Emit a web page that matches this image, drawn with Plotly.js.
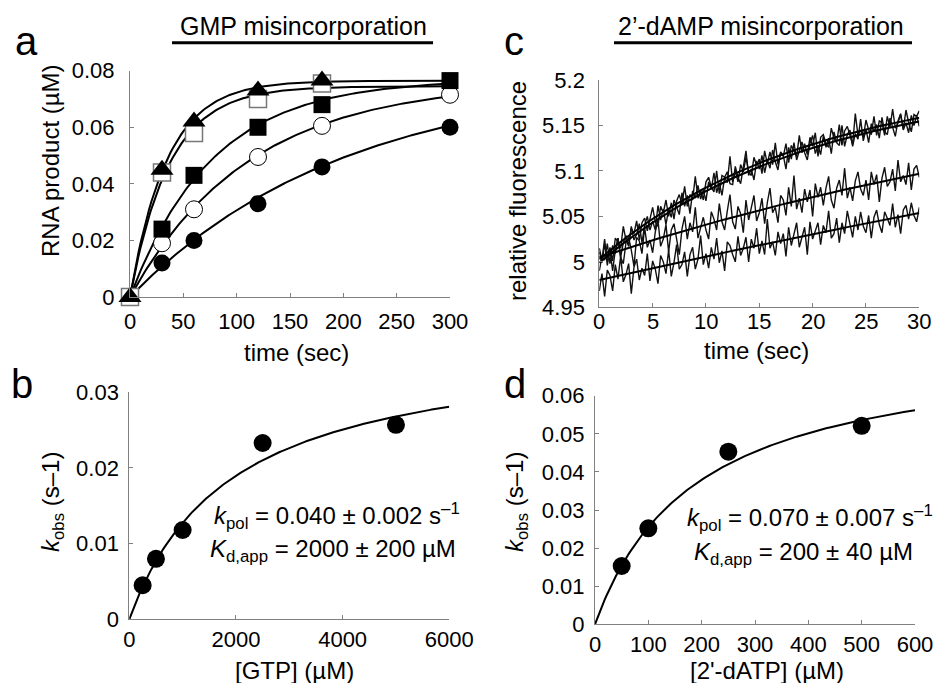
<!DOCTYPE html>
<html><head><meta charset="utf-8">
<script src="https://cdn.plot.ly/plotly-3.0.1.min.js"></script>
<style>html,body{margin:0;padding:0;background:#fff}#chart{width:937px;height:683px}</style>
</head><body><div id="chart"></div>
<script>
// ---------- Panel a: GMP misincorporation time courses ----------
const timeA = [0, 30, 60, 120, 180, 300];
const timeA5 = [0, 30, 60, 120, 180];
const gtp250 = [0, 0.012, 0.020, 0.033, 0.046, 0.060];
const gtp500 = [0, 0.019, 0.031, 0.0495, 0.0605, 0.0715];
const gtp1000 = [0, 0.024, 0.043, 0.060, 0.068, 0.0765];
const gtp2500 = [0, 0.044, 0.058, 0.070, 0.0755];
const gtp5000 = [0, 0.045, 0.062, 0.073, 0.0765];
// single-exponential fit parameters (amplitude, rate) for each GTP concentration
const fitAmpA = [0.078, 0.076, 0.077, 0.0745, 0.0765];
const fitRateA = [0.005, 0.009, 0.013, 0.027, 0.029];

// ---------- Panel b: kobs vs [GTP] ----------
const gtpConc = [250, 500, 1000, 2500, 5000];
const kobsGTP = [0.0045, 0.008, 0.0118, 0.0233, 0.0257];
const fitB = {kpol: 0.037, kd: 1900};

// ---------- Panel c: 2'-dAMP fluorescence traces (sampled every 0.25 s) ----------
const trace500 = [5.011,4.999,5.020,5.000,5.016,5.001,5.026,5.022,5.015,5.039,5.024,5.018,5.037,5.031,5.045,5.024,5.043,5.048,5.034,5.046,5.060,5.044,5.039,5.061,5.054,5.068,5.050,5.065,5.047,5.067,5.074,5.063,5.083,5.061,5.074,5.068,5.094,5.070,5.079,5.068,5.088,5.093,5.082,5.077,5.100,5.075,5.095,5.093,5.087,5.116,5.088,5.100,5.088,5.107,5.099,5.115,5.099,5.095,5.115,5.106,5.113,5.097,5.122,5.108,5.121,5.107,5.131,5.107,5.120,5.116,5.130,5.109,5.128,5.122,5.116,5.139,5.120,5.130,5.118,5.137,5.127,5.142,5.116,5.137,5.140,5.130,5.126,5.147,5.136,5.131,5.151,5.128,5.144,5.149,5.138,5.129,5.163,5.139,5.145,5.137,5.156,5.145,5.140,5.160,5.139,5.155,5.153,5.139,5.160,5.148,5.168,5.147,5.153,5.162,5.146,5.167,5.153,5.143,5.162,5.160,5.166];
const trace250 = [4.990,5.006,5.002,5.020,4.998,5.018,5.009,5.026,5.005,5.021,5.029,5.017,5.039,5.024,5.030,5.042,5.021,5.040,5.050,5.035,5.045,5.035,5.062,5.046,5.058,5.041,5.058,5.049,5.068,5.060,5.052,5.076,5.061,5.073,5.053,5.078,5.070,5.084,5.069,5.079,5.067,5.088,5.080,5.098,5.076,5.087,5.073,5.093,5.099,5.086,5.085,5.105,5.093,5.086,5.103,5.122,5.095,5.102,5.090,5.111,5.102,5.117,5.098,5.112,5.103,5.123,5.110,5.101,5.121,5.117,5.102,5.126,5.113,5.131,5.112,5.121,5.132,5.120,5.112,5.130,5.139,5.119,5.128,5.118,5.138,5.126,5.136,5.119,5.143,5.131,5.128,5.150,5.127,5.140,5.145,5.127,5.141,5.135,5.157,5.133,5.146,5.131,5.152,5.143,5.151,5.136,5.159,5.143,5.140,5.158,5.147,5.138,5.155,5.163,5.145,5.153,5.142,5.161,5.150,5.161,5.149];
const trace100 = [5.015,5.002,5.025,4.996,5.014,4.990,5.013,5.026,5.005,4.998,5.021,5.027,5.013,4.995,5.027,5.023,5.009,5.038,5.016,5.024,5.010,5.033,5.046,5.017,5.025,5.041,5.011,5.035,5.042,5.025,5.008,5.036,5.050,5.025,5.043,5.033,5.060,5.026,5.039,5.049,5.035,5.025,5.055,5.047,5.035,5.064,5.044,5.035,5.056,5.074,5.044,5.036,5.061,5.053,5.032,5.068,5.046,5.058,5.073,5.045,5.054,5.070,5.042,5.065,5.081,5.054,5.060,5.043,5.073,5.068,5.051,5.082,5.061,5.095,5.058,5.070,5.054,5.080,5.066,5.079,5.050,5.086,5.071,5.082,5.062,5.081,5.094,5.068,5.059,5.081,5.090,5.073,5.103,5.070,5.082,5.067,5.089,5.099,5.080,5.073,5.090,5.068,5.099,5.085,5.096,5.066,5.092,5.104,5.083,5.088,5.102,5.078,5.112,5.088,5.095,5.085,5.109,5.079,5.102,5.106,5.093];
const trace50 = [4.968,4.987,4.962,4.991,4.985,4.968,4.997,4.981,5.006,4.978,4.986,4.998,4.965,4.994,5.003,4.980,4.993,4.985,5.009,4.979,5.001,4.992,4.976,5.007,5.000,4.987,5.013,4.984,4.999,5.019,4.992,4.997,5.011,4.984,5.008,5.016,4.992,5.003,5.029,4.997,5.009,4.993,5.016,5.003,5.026,4.999,5.012,4.990,5.022,5.018,5.008,5.000,5.028,5.007,5.015,5.027,5.000,5.025,5.015,5.037,5.009,5.023,5.008,5.047,5.015,5.022,5.007,5.033,5.020,5.031,5.006,5.038,5.018,5.031,5.043,5.016,5.026,5.038,5.008,5.044,5.025,5.034,5.043,5.019,5.040,5.032,5.056,5.026,5.031,5.048,5.021,5.043,5.031,5.056,5.041,5.027,5.050,5.035,5.055,5.039,5.032,5.051,5.026,5.049,5.057,5.041,5.032,5.055,5.048,5.040,5.064,5.038,5.052,5.031,5.057,5.062,5.047,5.065,5.051,5.044,5.060];
const traceStep = 0.25;
// exponential fits: start value, amplitude, rate
const fitStartC = [5.003, 4.999, 5.005, 4.980];
const fitAmpC = [0.2, 0.2, 0.23, 0.53];
const fitRateC = [0.05, 0.05, 0.017, 0.005];

// ---------- Panel d: kobs vs [2'-dATP] ----------
const datpConc = [50, 100, 250, 500];
const kobsDATP = [0.0153, 0.0252, 0.0453, 0.0521];
const fitD = {kpol: 0.074, kd: 190};

// ---------- tick labels ----------
const ticksAx = [0, 50, 100, 150, 200, 250, 300];
const ticksAy = [0, 0.02, 0.04, 0.06, 0.08];
const ticksAyText = ['0', '0.02', '0.04', '0.06', '0.08'];
const ticksCx = [0, 5, 10, 15, 20, 25, 30];
const ticksCy = [4.95, 5, 5.05, 5.1, 5.15, 5.2];
const ticksCyText = ['4.95', '5', '5.05', '5.1', '5.15', '5.2'];
const ticksBx = [0, 2000, 4000, 6000];
const ticksBy = [0, 0.01, 0.02, 0.03];
const ticksByText = ['0', '0.01', '0.02', '0.03'];
const ticksDx = [0, 100, 200, 300, 400, 500, 600];
const ticksDy = [0, 0.01, 0.02, 0.03, 0.04, 0.05, 0.06];
const ticksDyText = ['0', '0.01', '0.02', '0.03', '0.04', '0.05', '0.06'];

// ---------- helpers ----------
const W = 937, H = 683;
const px = x => x / W;
const py = y => 1 - y / H;
function grid(max, n) { const a = []; for (let i = 0; i <= n; i++) a.push(max * i / n); return a; }
const FONT = '"Liberation Sans", Arial, Helvetica, sans-serif';

const traces = [];
// panel a fits
const tFit = grid(300, 150);
for (let i = 0; i < fitAmpA.length; i++) {
  traces.push({x: tFit, y: tFit.map(t => fitAmpA[i] * (1 - Math.exp(-fitRateA[i] * t))), mode: 'lines',
    line: {color: '#000', width: 2}, xaxis: 'x', yaxis: 'y', hoverinfo: 'skip', cliponaxis: false});
}
const mk = (x, y, symbol, fill, lineColor, lw, size) => ({x, y, mode: 'markers', xaxis: 'x', yaxis: 'y', cliponaxis: false,
  marker: {symbol, size, color: fill, line: {color: lineColor, width: lw}}});
traces.push(mk(timeA, gtp250, 'circle', '#000', '#000', 0, 17));
traces.push(mk(timeA, gtp500, 'circle', '#fff', '#000', 1, 17));
traces.push(mk(timeA, gtp1000, 'square', '#000', '#000', 0, 17));
traces.push(mk(timeA5, gtp2500, 'square', '#fff', '#777', 1.5, 17));
traces.push(mk(timeA5, gtp5000, 'triangle-up', '#000', '#000', 0, 20));

// panel c traces
const cData = [trace500, trace250, trace100, trace50];
cData.forEach((arr, k) => {
  const tx = arr.map((_, i) => i * traceStep);
  traces.push({x: tx, y: arr, mode: 'lines', line: {color: '#111', width: 1.4}, xaxis: 'x2', yaxis: 'y2', hoverinfo: 'skip'});
});
const tFitC = grid(30, 120);
for (let i = 0; i < fitStartC.length; i++) {
  traces.push({x: tFitC, y: tFitC.map(t => fitStartC[i] + fitAmpC[i] * (1 - Math.exp(-fitRateC[i] * t))), mode: 'lines',
    line: {color: '#000', width: 2}, xaxis: 'x2', yaxis: 'y2', hoverinfo: 'skip'});
}

// panel b
const xB = grid(6000, 200);
traces.push({x: xB, y: xB.map(s => fitB.kpol * s / (fitB.kd + s)), mode: 'lines', line: {color: '#000', width: 2}, xaxis: 'x3', yaxis: 'y3'});
traces.push({x: gtpConc, y: kobsGTP, mode: 'markers', marker: {size: 18, color: '#000'}, xaxis: 'x3', yaxis: 'y3', cliponaxis: false});

// panel d
const xD = grid(600, 200);
traces.push({x: xD, y: xD.map(s => fitD.kpol * s / (fitD.kd + s)), mode: 'lines', line: {color: '#000', width: 2}, xaxis: 'x4', yaxis: 'y4'});
traces.push({x: datpConc, y: kobsDATP, mode: 'markers', marker: {size: 18, color: '#000'}, xaxis: 'x4', yaxis: 'y4', cliponaxis: false});

const axBase = {showline: true, linecolor: '#808080', linewidth: 1, ticks: 'inside', ticklen: 4, tickcolor: '#808080', tickwidth: 1,
  showgrid: false, zeroline: false, tickfont: {size: 22, color: '#000', family: FONT}, tickmode: 'array', fixedrange: true};
const xax = (dom, anchor, range, vals, so) => Object.assign({}, axBase, {domain: dom, anchor, range, tickvals: vals, ticktext: vals.map(String), ticklabelstandoff: so});
const yax = (dom, anchor, range, vals, text, so) => Object.assign({}, axBase, {domain: dom, anchor, range, tickvals: vals, ticktext: text, ticklabelstandoff: so});

const ann = (x, y, text, size, extra) => Object.assign({xref: 'paper', yref: 'paper', x: px(x), y: py(y), text, showarrow: false,
  font: {size, color: '#000', family: FONT}, xanchor: 'center', yanchor: 'middle'}, extra || {});

// panel c x tick labels sit closer to the axis than Plotly allows: place them on the x2 scale
const cTickLabels = ticksCx.map(v => ({xref: 'x2', yref: 'paper', x: v, y: py(321.5), text: String(v), showarrow: false,
  font: {size: 22, color: '#000', family: FONT}, xanchor: 'center', yanchor: 'middle'}));

const xC = xax([px(599.3), px(919.3)], 'y2', [0, 30], ticksCx, 0);
xC.showticklabels = false;

const layout = {
  width: W, height: H, margin: {l: 0, r: 0, t: 0, b: 0}, paper_bgcolor: '#fff', plot_bgcolor: 'rgba(0,0,0,0)',
  showlegend: false, font: {family: FONT, color: '#000'},
  xaxis: xax([px(130), px(450)], 'y', [0, 300], ticksAx, 5),
  yaxis: yax([py(297), py(70.7)], 'x', [0, 0.08], ticksAy, ticksAyText, 10),
  xaxis2: xC,
  yaxis2: yax([py(307.3), py(80)], 'x2', [4.95, 5.2], ticksCy, ticksCyText, 9),
  xaxis3: xax([px(129.3), px(449.3)], 'y3', [0, 6000], ticksBx, 0),
  yaxis3: yax([py(619.3), py(392.3)], 'x3', [0, 0.03], ticksBy, ticksByText, 5),
  xaxis4: xax([px(595), px(915)], 'y4', [0, 600], ticksDx, 0),
  yaxis4: yax([py(624.3), py(395.7)], 'x4', [0, 0.06], ticksDy, ticksDyText, 5),
  shapes: [
    {type: 'line', xref: 'paper', yref: 'paper', x0: px(172), x1: px(433), y0: py(42.7), y1: py(42.7), line: {color: '#000', width: 3}},
    {type: 'line', xref: 'paper', yref: 'paper', x0: px(614), x1: px(912), y0: py(42.7), y1: py(42.7), line: {color: '#000', width: 3}}
  ],
  annotations: [
    ann(303, 26, 'GMP misincorporation', 25),
    ann(761, 26, '2’-dAMP misincorporation', 25),
    ann(26, 41, 'a', 40), ann(22, 384, 'b', 40), ann(514, 41, 'c', 40), ann(515, 384, 'd', 40),
    ann(296, 352, 'time (sec)', 24), ann(756, 350, 'time (sec)', 24),
    ann(294, 670, '[GTP] (µM)', 24), ann(767, 670, "[2'-dATP] (µM)", 24),
    ann(50, 161, 'RNA product (µM)', 24, {textangle: -90}),
    ann(517, 191, 'relative fluorescence', 24, {textangle: -90}),
    ann(52, 502, '<i>k</i><sub>obs</sub> (s–1)', 24, {textangle: -90}),
    ann(516, 502, '<i>k</i><sub>obs</sub> (s–1)', 24, {textangle: -90}),
    ann(337, 516, '<i>k</i><sub>pol</sub> = 0.040 ± 0.002 s<sup>–1</sup>', 24),
    ann(333, 550, '<i>K</i><sub>d,app</sub> = 2000 ± 200 µM', 24),
    ann(810, 518, '<i>k</i><sub>pol</sub> = 0.070 ± 0.007 s<sup>–1</sup>', 24),
    ann(803, 553, '<i>K</i><sub>d,app</sub> = 200 ± 40 µM', 24)
  ].concat(cTickLabels)
};
Plotly.newPlot('chart', traces, layout, {staticPlot: true, displayModeBar: false});
</script></body></html>
